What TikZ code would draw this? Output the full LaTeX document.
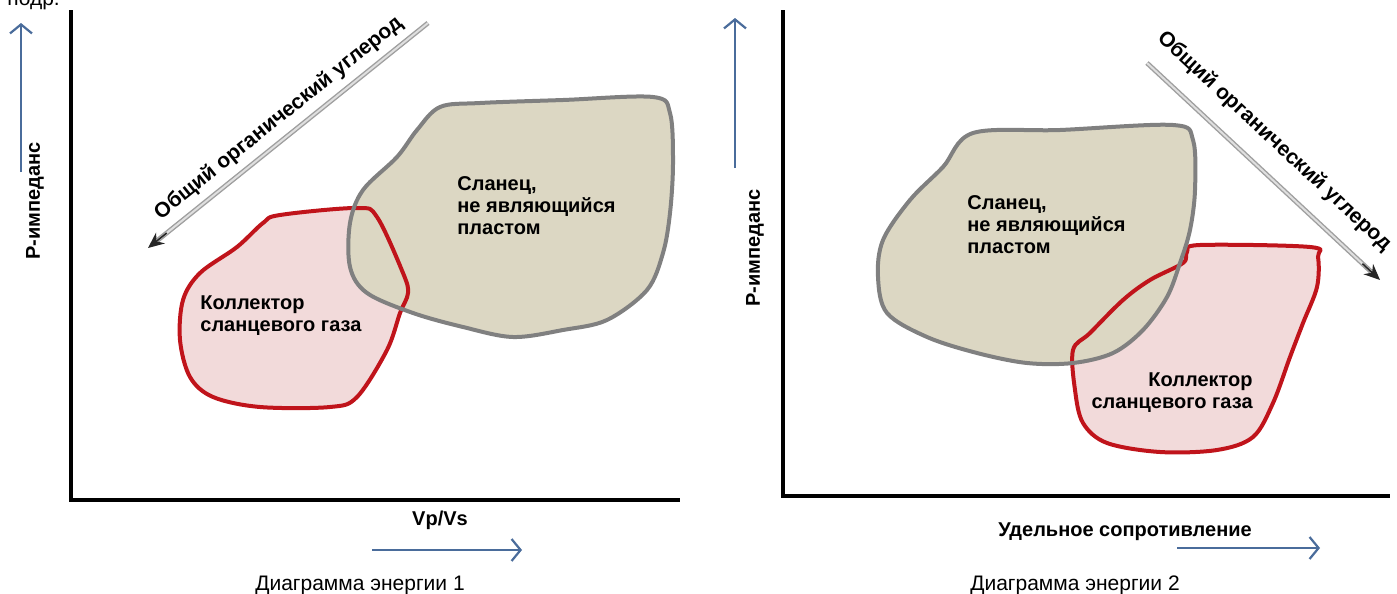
\documentclass[tikz,border=0pt]{standalone}
\usepackage{fontspec}
\setmainfont{Liberation Sans}
\usetikzlibrary{arrows.meta,calc}

\definecolor{shalefill}{HTML}{DCD7C3}
\definecolor{shaleline}{HTML}{808080}
\definecolor{gasfill}{HTML}{F2DADA}
\definecolor{gasline}{HTML}{C0141B}
\definecolor{axisblue}{HTML}{4A6C9B}

\tikzset{
  axisline/.style={line width=2.2pt, black, line join=miter},
  bluearrow/.style={axisblue, line width=1.1pt, -{Straight Barb[length=4.5pt,width=11pt]}},
  tocline/.style={draw=gray!75, double=gray!25, double distance=1pt, line width=0.7pt, shorten >=6pt},
  toctip/.style={-{Stealth[length=8pt,width=7pt]}, black!85, line width=0.8pt},
  toclabel/.style={font=\fontsize{10.5}{12}\selectfont\bfseries, sloped, above},
  blobtext/.style={font=\fontsize{10}{11}\selectfont\bfseries, inner sep=0pt},
  axislabel/.style={font=\fontsize{10}{12}\selectfont\bfseries},
  caption/.style={font=\fontsize{10.5}{12}\selectfont, anchor=base},
  gasblob/.style={draw=gasline, line width=2pt},
  shaleblob/.style={draw=shaleline, line width=2pt}
}

% outlines of the clouds
\newcommand\gasL{plot[smooth cycle, tension=0.55] coordinates {(280,215) (357,208) (377,217) (403,273) (408,293) (400,313) (387,350) (357,397) (330,407) (260,407) (213,397) (190,377) (180,340) (183,300) (200,273) (237,247) (263,223)}}
\newcommand\shaleL{plot[smooth cycle, tension=0.55] coordinates {(440,107) (480,103) (563,100) (653,97) (670,113) (673,163) (670,213) (663,253) (647,290) (607,320) (563,330) (513,337) (463,327) (413,313) (367,293) (350,267) (350,223) (363,190) (397,157) (417,130)}}
\newcommand\shaleR{plot[smooth cycle, tension=0.55] coordinates {(973,133) (1060,130) (1173,125) (1193,140) (1195,190) (1190,230) (1180,263) (1167,297) (1143,330) (1113,353) (1073,363) (1027,363) (977,353) (927,337) (887,313) (878,277) (883,240) (910,200) (943,167)}}
\newcommand\gasR{plot[smooth cycle, tension=0.55] coordinates {(1187,252) (1200,245) (1310,247) (1318,257) (1317,287) (1303,323) (1290,357) (1273,403) (1253,437) (1217,450) (1160,452) (1107,443) (1083,423) (1075,390) (1073,350) (1090,333) (1123,300) (1150,280) (1183,263)}}

\begin{document}
\begin{tikzpicture}[x=0.5pt,y=-0.5pt]
\useasboundingbox (0,0) rectangle (1397,594);

\node[caption, anchor=base west, inner sep=0pt] (cut) at (7,5) {подр.};

% diagram 1
\coordinate (oL) at (71,500);
\coordinate (yL) at (71,10);
\coordinate (xL) at (680,500);
\draw[axisline] (yL) -- (oL) -- (xL);

\coordinate (upL1) at (21,172);
\coordinate (upL2) at (21,23);
\draw[bluearrow] (upL1) -- (upL2);
\node[axislabel, rotate=90] (impL) at (35,201) {P-импеданс};

\coordinate (rtL1) at (372,550);
\coordinate (rtL2) at (522,550);
\draw[bluearrow] (rtL1) -- (rtL2);
\node[axislabel] (vpvs) at (440,520) {Vp/Vs};
\node[caption] (capL) at (360,590) {Диаграмма энергии 1};

\fill[gasfill] \gasL;
\fill[shalefill] \shaleL;
\draw[gasblob] \gasL;
\draw[shaleblob] \shaleL;
\node[blobtext, anchor=west, align=left] (shaleTxtL) at (457,206) {Сланец,\\не являющийся\\пластом};
\node[blobtext, anchor=west, align=left] (gasTxtL) at (200,316) {Коллектор\\сланцевого газа};

\coordinate (tocL1) at (428,23);
\coordinate (tocL2) at (148,248);
\draw[tocline] (tocL1) -- node[toclabel, pos=0.49, yshift=1pt] (tocTxtL) {Общий органический углерод} (tocL2);
\draw[toctip] ($(tocL2)!12pt!(tocL1)$) -- (tocL2);

% diagram 2
\coordinate (oR) at (783,496);
\coordinate (yR) at (783,10);
\coordinate (xR) at (1390,496);
\draw[axisline] (yR) -- (oR) -- (xR);

\coordinate (upR1) at (735,168);
\coordinate (upR2) at (735,18);
\draw[bluearrow] (upR1) -- (upR2);
\node[axislabel, rotate=90] (impR) at (755,248) {P-импеданс};

\coordinate (rtR1) at (1177,548);
\coordinate (rtR2) at (1320,548);
\draw[bluearrow] (rtR1) -- (rtR2);
\node[axislabel] (resist) at (1125,532) {Удельное сопротивление};
\node[caption] (capR) at (1075,590) {Диаграмма энергии 2};

\fill[gasfill] \gasR;
\fill[shalefill] \shaleR;
\draw[gasblob] \gasR;
\draw[shaleblob] \shaleR;
\node[blobtext, anchor=west, align=left] (shaleTxtR) at (967,225) {Сланец,\\не являющийся\\пластом};
\node[blobtext, anchor=east, align=right] (gasTxtR) at (1253,393) {Коллектор\\сланцевого газа};

\coordinate (tocR1) at (1147,63);
\coordinate (tocR2) at (1380,280);
\draw[tocline] (tocR1) -- node[toclabel, pos=0.46, yshift=6pt] (tocTxtR) {Общий органический углерод} (tocR2);
\draw[toctip] ($(tocR2)!12pt!(tocR1)$) -- (tocR2);
\end{tikzpicture}
\end{document}
